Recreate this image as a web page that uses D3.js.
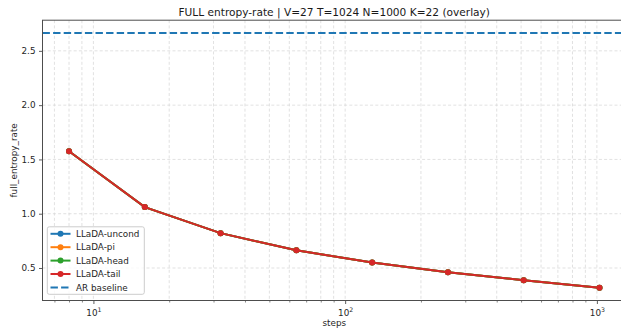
<!DOCTYPE html>
<html>
<head>
<meta charset="utf-8">
<script src="https://cdn.jsdelivr.net/npm/d3@7"></script>
<style>
  html, body { margin: 0; padding: 0; background: #fff; }
  svg { display: block; font-family: "DejaVu Sans", sans-serif; }
</style>
</head>
<body>
<svg id="chart" width="621" height="331"></svg>
<script>
// Sampling steps (log-spaced) and the full entropy rate for each sampler variant
const steps = [8, 16, 32, 64, 128, 256, 512, 1024];
const unconds = [1.575, 1.061, 0.821, 0.663, 0.550, 0.461, 0.387, 0.318];
const pis     = [1.575, 1.061, 0.821, 0.663, 0.550, 0.461, 0.387, 0.318];
const heads   = [1.575, 1.061, 0.821, 0.663, 0.550, 0.461, 0.387, 0.318];
const tails   = [1.575, 1.061, 0.821, 0.663, 0.550, 0.461, 0.387, 0.318];
const arBaseline = 2.665;
const yTicks = [0.5, 1.0, 1.5, 2.0, 2.5];
const xMajorTicks = [10, 100, 1000];

const series = [
  { name: "LLaDA-uncond", values: unconds, color: "#1f77b4" },
  { name: "LLaDA-pi",     values: pis,     color: "#ff7f0e" },
  { name: "LLaDA-head",   values: heads,   color: "#2ca02c" },
  { name: "LLaDA-tail",   values: tails,   color: "#d62728" }
];

const svg = d3.select("#chart");
const axLeft = 42.5, axRight = 626, axTop = 20.2, axBottom = 300.5;
const fs = 8.8;

// Domains padded by 5% of the data span, as matplotlib does
const allY = series.flatMap(s => s.values).concat([arBaseline]);
const yMin = d3.min(allY), yMax = d3.max(allY), ySpan = yMax - yMin;
const lx0 = Math.log10(d3.min(steps)), lx1 = Math.log10(d3.max(steps)), lxSpan = lx1 - lx0;

const x = d3.scaleLog()
  .domain([Math.pow(10, lx0 - 0.05 * lxSpan), Math.pow(10, lx1 + 0.05 * lxSpan)])
  .range([axLeft, axRight]);
const y = d3.scaleLinear()
  .domain([yMin - 0.05 * ySpan, yMax + 0.05 * ySpan])
  .range([axBottom, axTop]);

const [xd0, xd1] = x.domain();
const xMinor = [];
for (let e = 0; e <= 3; e++) for (let m = 2; m <= 9; m++) {
  const v = m * Math.pow(10, e);
  if (v >= xd0 && v <= xd1) xMinor.push(v);
}

// Grid
const grid = svg.append("g");
grid.selectAll("line.gx").data(xMajorTicks.concat(xMinor)).join("line")
  .attr("x1", d => x(d)).attr("x2", d => x(d))
  .attr("y1", axTop).attr("y2", axBottom)
  .attr("stroke", "#d9d9d9").attr("stroke-width", 0.8).attr("stroke-dasharray", "3,2.2");
grid.selectAll("line.gy").data(yTicks).join("line")
  .attr("x1", axLeft).attr("x2", axRight)
  .attr("y1", d => y(d)).attr("y2", d => y(d))
  .attr("stroke", "#d9d9d9").attr("stroke-width", 0.8).attr("stroke-dasharray", "3,2.2");

// AR baseline
svg.append("line")
  .attr("x1", axLeft).attr("x2", axRight)
  .attr("y1", y(arBaseline)).attr("y2", y(arBaseline))
  .attr("stroke", "#1f77b4").attr("stroke-width", 2).attr("stroke-dasharray", "7.4,3.2");

// Series lines and markers
const line = d3.line().x((d, i) => x(steps[i])).y(d => y(d));
series.forEach(s => {
  const g = svg.append("g");
  g.append("path").datum(s.values)
    .attr("d", line).attr("fill", "none")
    .attr("stroke", s.color).attr("stroke-width", 2);
  g.selectAll("circle").data(s.values).join("circle")
    .attr("cx", (d, i) => x(steps[i])).attr("cy", d => y(d))
    .attr("r", 3).attr("fill", s.color);
});

// Axes
const yAxis = d3.axisLeft(y).tickValues(yTicks).tickFormat(d3.format(".1f")).tickSize(3.5).tickPadding(3.5);
const gy = svg.append("g").attr("transform", `translate(${axLeft},0)`).call(yAxis);
gy.select(".domain").remove();
gy.selectAll("text").attr("font-size", fs).attr("fill", "#262626").attr("font-family", "DejaVu Sans");
gy.selectAll("line").attr("stroke", "#333").attr("stroke-width", 0.8);

const xAxis = d3.axisBottom(x).tickValues(xMajorTicks).tickFormat("").tickSize(3.5);
const gx = svg.append("g").attr("transform", `translate(0,${axBottom})`).call(xAxis);
gx.select(".domain").remove();
gx.selectAll("line").attr("stroke", "#333").attr("stroke-width", 0.8);
gx.selectAll(".tick").append("text")
  .attr("y", 15.5).attr("text-anchor", "middle").attr("fill", "#262626")
  .attr("font-size", fs).attr("font-family", "DejaVu Sans")
  .each(function(d) {
    const t = d3.select(this);
    t.append("tspan").text("10");
    t.append("tspan").attr("dy", -3.6).attr("font-size", 6.2).text(String(Math.round(Math.log10(d))));
  });
const xMinorAxis = d3.axisBottom(x).tickValues(xMinor).tickFormat("").tickSize(2);
const gxm = svg.append("g").attr("transform", `translate(0,${axBottom})`).call(xMinorAxis);
gxm.select(".domain").remove();
gxm.selectAll("line").attr("stroke", "#333").attr("stroke-width", 0.6);

// Spines
svg.append("rect")
  .attr("x", axLeft).attr("y", axTop).attr("width", axRight - axLeft).attr("height", axBottom - axTop)
  .attr("fill", "none").attr("stroke", "#4d4d4d").attr("stroke-width", 1);

// Title and axis labels
svg.append("text").attr("x", (axLeft + axRight) / 2).attr("y", 15.8)
  .attr("text-anchor", "middle").attr("font-size", 10.6).attr("fill", "#1a1a1a")
  .text("FULL entropy-rate | V=27 T=1024 N=1000 K=22 (overlay)");
svg.append("text").attr("x", (axLeft + axRight) / 2).attr("y", 326)
  .attr("text-anchor", "middle").attr("font-size", fs).attr("fill", "#262626")
  .text("steps");
svg.append("text")
  .attr("transform", `translate(16.5,${(axTop + axBottom) / 2}) rotate(-90)`)
  .attr("text-anchor", "middle").attr("font-size", fs).attr("fill", "#262626")
  .text("full_entropy_rate");

// Legend
const legendItems = series.map(s => ({ name: s.name, color: s.color, dashed: false }))
  .concat([{ name: "AR baseline", color: "#1f77b4", dashed: true }]);
const lg = svg.append("g");
lg.append("rect").attr("x", 47.3).attr("y", 226.8).attr("width", 97).attr("height", 67.5)
  .attr("rx", 2).attr("fill", "#fff").attr("fill-opacity", 0.8)
  .attr("stroke", "#cccccc").attr("stroke-width", 1);
legendItems.forEach((it, i) => {
  const cy = 233.8 + i * 13.4;
  lg.append("line").attr("x1", 50.5).attr("x2", 70.5).attr("y1", cy).attr("y2", cy)
    .attr("stroke", it.color).attr("stroke-width", 2)
    .attr("stroke-dasharray", it.dashed ? "7.4,3.2" : null);
  if (!it.dashed) lg.append("circle").attr("cx", 60.5).attr("cy", cy).attr("r", 3).attr("fill", it.color);
  lg.append("text").attr("x", 76).attr("y", cy + 3.2).attr("font-size", fs).attr("fill", "#262626")
    .text(it.name);
});
</script>
</body>
</html>
